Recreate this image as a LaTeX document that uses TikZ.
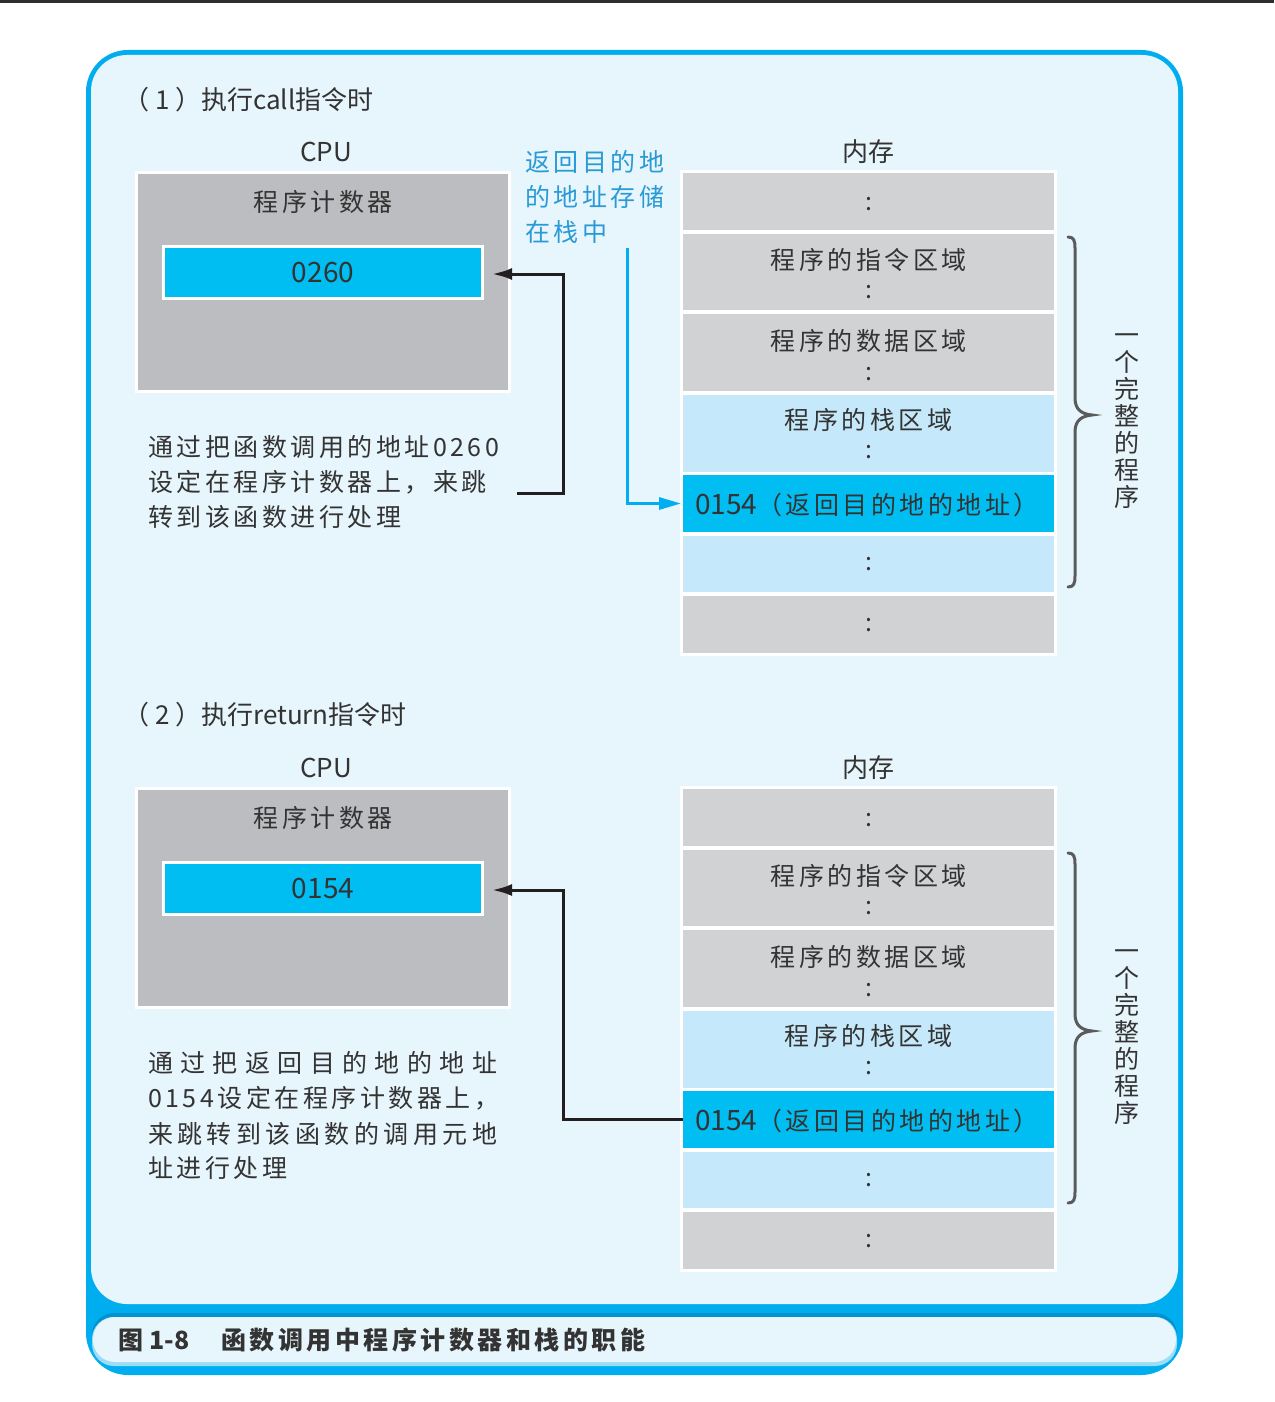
\documentclass[tikz,border=0pt]{standalone}
\usepackage{fontspec}
\usetikzlibrary{arrows.meta}
\newfontfamily\cjk{Noto Sans CJK SC}
\newfontfamily\cjksp{Noto Sans CJK SC}[LetterSpace=14]

\definecolor{frameblue}{HTML}{00AEEF}
\definecolor{panel}{HTML}{E7F5FC}
\definecolor{capdark}{HTML}{0093CF}
\definecolor{capstripe}{HTML}{9BDCF6}
\definecolor{cpugray}{HTML}{BCBDC0}
\definecolor{memgray}{HTML}{D1D2D4}
\definecolor{stackblue}{HTML}{C5E9FA}
\definecolor{regcyan}{HTML}{00BEF2}
\definecolor{ink}{HTML}{333333}
\definecolor{arrowink}{HTML}{231F20}
\definecolor{notecol}{HTML}{2A9AD6}
\definecolor{bracecol}{HTML}{5A5B5D}
\definecolor{topline}{HTML}{2E2E2E}

\tikzset{
  body/.style={font=\cjksp\fontsize{25}{30}\selectfont, text=ink, inner sep=0pt, outer sep=0pt},
  head/.style={font=\cjk\fontsize{26}{30}\selectfont, text=ink, inner sep=0pt},
  num/.style={font=\cjk\fontsize{28}{30}\selectfont, text=ink, inner sep=0pt},
  dots/.style={font=\cjk\fontsize{25}{30}\selectfont, text=ink, inner sep=0pt},
  note/.style={font=\cjksp\fontsize{25}{30}\selectfont, text=notecol, inner sep=0pt, anchor=west},
  vert/.style={font=\cjk\fontsize{25}{27}\selectfont, text=ink, inner sep=0pt, align=center},
  cpubox/.style={draw=white, line width=3pt, fill=cpugray, minimum width=373pt, minimum height=219pt, inner sep=0pt},
  regbox/.style={draw=white, line width=3pt, fill=regcyan, minimum width=319pt, minimum height=52pt, inner sep=0pt},
  cell/.style={minimum width=371pt, inner sep=0pt, outer sep=0pt},
  memback/.style={fill=white, minimum width=377pt, minimum height=486pt, inner sep=0pt},
  blackarrow/.style={draw=arrowink, line width=3pt, -{Latex[length=20pt,width=12pt]}},
  bluearrow/.style={draw=frameblue, line width=3pt, -{Triangle[length=22pt,width=12pt]}},
  bracket/.style={draw=bracecol, line width=3pt, line cap=round},
}

% memory column: background, seven cells and their labels
\newcommand\memstack[1]{%
  \node[memback] (#1) at (868.5,413) {};
  \node[cell, fill=memgray,   minimum height=57pt] (#1r1) at (868.5,201.5) {};
  \node[cell, fill=memgray,   minimum height=76pt] (#1r2) at (868.5,272) {};
  \node[cell, fill=memgray,   minimum height=77pt] (#1r3) at (868.5,352.5) {};
  \node[cell, fill=stackblue, minimum height=77pt] (#1r4) at (868.5,433.5) {};
  \node[cell, fill=regcyan,   minimum height=57pt] (#1r5) at (868.5,503.5) {};
  \node[cell, fill=stackblue, minimum height=56pt] (#1r6) at (868.5,564) {};
  \node[cell, fill=memgray,   minimum height=57pt] (#1r7) at (868.5,624.5) {};
  \node[dots] (#1d1) at (868.5,204) {:};
  \node[body] (#1l2) at (868.5,259.5) {程序的指令区域};
  \node[dots] (#1d2) at (868.5,292) {:};
  \node[body] (#1l3) at (868.5,340.5) {程序的数据区域};
  \node[dots] (#1d3) at (868.5,374) {:};
  \node[body] (#1l4) at (868.5,420) {程序的栈区域};
  \node[dots] (#1d4) at (868.5,452) {:};
  \node[body, anchor=west] (#1l5) at (695,505) {{\cjk\fontsize{28}{30}\selectfont 0154}（返回目的地的地址）};
  \node[dots] (#1d6) at (868.5,564) {:};
  \node[dots] (#1d7) at (868.5,625) {:};
  % brace spanning the program's own regions
  \draw[bracket] (1068,237) .. controls (1074,237) and (1075,241) .. (1075,248)
    -- (1075,398) .. controls (1075,410) and (1082,414) .. (1092,415)
    .. controls (1082,416) and (1075,420) .. (1075,432)
    -- (1075,576) .. controls (1075,583) and (1074,587) .. (1068,587);
  \node[vert] (#1v) at (1127,421) {一\\个\\完\\整\\的\\程\\序};
}

\begin{document}
\begin{tikzpicture}[x=1pt,y=-1pt]
\useasboundingbox (0,0) rectangle (1274,1402);
\fill[white] (0,0) rectangle (1274,1402);
\fill[topline] (0,0) rectangle (1274,3);

% outer frame and panel
\fill[frameblue, rounded corners=42pt] (86,50) rectangle (1183,1375);
\fill[panel, rounded corners=36pt] (91,55) rectangle (1178,1304);

% caption bar
\fill[capdark, rounded corners=22pt] (92,1313) rectangle (1177,1360);
\fill[capstripe, rounded corners=22pt] (92,1317) rectangle (1177,1366);
\fill[panel, rounded corners=22pt] (93,1317) rectangle (1176,1362);
\node[font=\cjksp\bfseries\fontsize{25}{30}\selectfont, text=ink, inner sep=0pt, anchor=west]
  (caption) at (118,1340) {图\hspace{6pt}{\cjk\bfseries\fontsize{25}{30}\selectfont 1-8}\hspace{32pt}函数调用中程序计数器和栈的职能};

% ---------- (1) call ----------
\node[head, anchor=west] (title1) at (123,100) {（ 1 ）执行call指令时};
\node[head] (cpuT1) at (326,152) {CPU};
\node[head] (memT1) at (868,152) {内存};
\node[cpubox] (cpu1) at (323,281.5) {};
\node[body] (pcl1) at (323,201.5) {程序计数器};
\node[regbox] (pc1) at (323,272.5) {};
\node[num] (pcv1) at (pc1) {0260};
\memstack{m1}

\node[body, anchor=west] (t1a) at (148,447) {通过把函数调用的地址0260};
\node[body, anchor=west] (t1b) at (148,482) {设定在程序计数器上，来跳};
\node[body, anchor=west] (t1c) at (148,517) {转到该函数进行处理};

\node[note] (n1a) at (525,162) {返回目的地};
\node[note] (n1b) at (525,197) {的地址存储};
\node[note] (n1c) at (525,232) {在栈中};

\coordinate (a1s) at (517,493);
\coordinate (bend1) at (563,274);
\coordinate (tip1) at (492,274);
\draw[blackarrow] (a1s) -| (bend1) -- (tip1);

\coordinate (ns) at (627,248);
\draw[bluearrow] (ns) |- ([xshift=-2pt]m1r5.west);

% ---------- (2) return ----------
\begin{scope}[shift={(0,616)}]
\node[head, anchor=west] (title2) at (123,99) {（ 2 ）执行return指令时};
\node[head] (cpuT2) at (326,152) {CPU};
\node[head] (memT2) at (868,152) {内存};
\node[cpubox] (cpu2) at (323,281.5) {};
\node[body] (pcl2) at (323,201.5) {程序计数器};
\node[regbox] (pc2) at (323,272.5) {};
\node[num] (pcv2) at (pc2) {0154};
\memstack{m2}

\node[body, anchor=west] (t2a) at (148,447) {\makebox[349pt][s]{通\hfil 过\hfil 把\hfil 返\hfil 回\hfil 目\hfil 的\hfil 地\hfil 的\hfil 地\hfil 址}};
\node[body, anchor=west] (t2b) at (148,482) {0154设定在程序计数器上，};
\node[body, anchor=west] (t2c) at (148,517.5) {\makebox[349pt][s]{来\hfil 跳\hfil 转\hfil 到\hfil 该\hfil 函\hfil 数\hfil 的\hfil 调\hfil 用\hfil 元\hfil 地}};
\node[body, anchor=west] (t2d) at (148,552.5) {址进行处理};

\coordinate (bend2) at (563,274);
\coordinate (tip2) at (492,274);
\draw[blackarrow] (m2r5.west) -| (bend2) -- (tip2);
\end{scope}
\end{tikzpicture}
\end{document}
